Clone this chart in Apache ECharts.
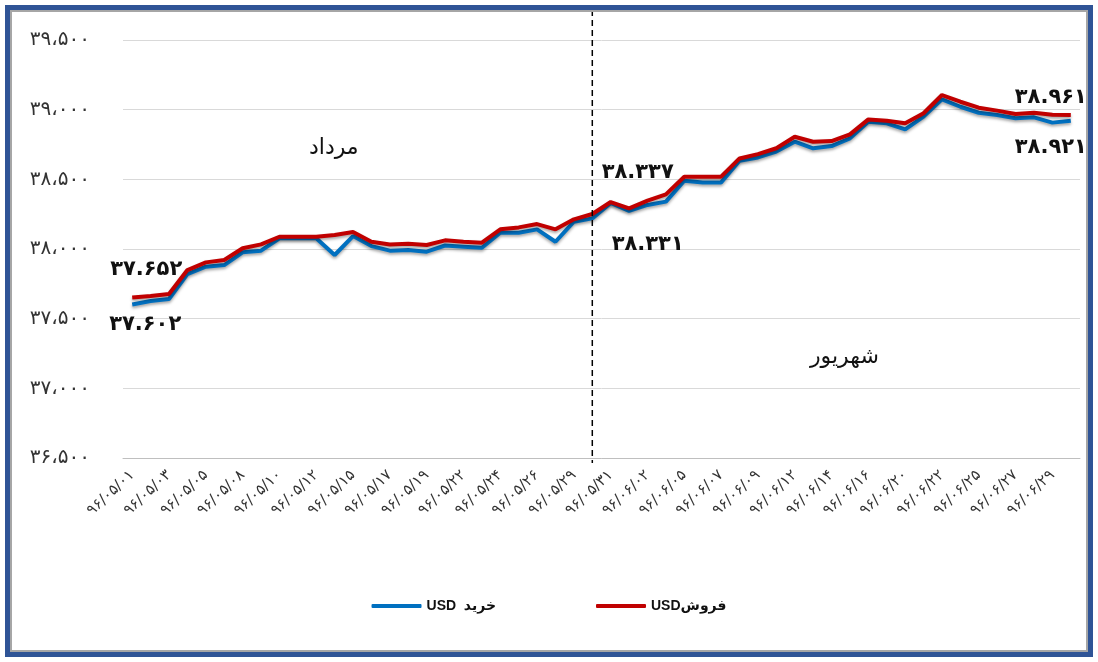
<!DOCTYPE html>
<html>
<head>
<meta charset="utf-8">
<script src="https://cdn.jsdelivr.net/npm/echarts@6/dist/echarts.min.js"></script>
<style>
  html, body { margin: 0; padding: 0; background: #fff; }
  #main { position: absolute; left: 0; top: 0; width: 1098px; height: 662px; }
  #frame {
    position: absolute; left: 5px; top: 5px; width: 1088px; height: 652px;
    box-sizing: border-box; border: 5px solid #2f5496;
    box-shadow: inset 0 0 0 2px #a6a6a6; pointer-events: none; z-index: 5;
  }
</style>
</head>
<body>
<div id="main"></div>
<div id="frame"></div>
<script>
// trading days, Mordad and Shahrivar 1396
var dates = [
  '96/05/01','96/05/02','96/05/03','96/05/04','96/05/05','96/05/07','96/05/08','96/05/09','96/05/10',
  '96/05/11','96/05/12','96/05/14','96/05/15','96/05/16','96/05/17','96/05/18','96/05/19','96/05/21',
  '96/05/22','96/05/23','96/05/24','96/05/25','96/05/26','96/05/28','96/05/29','96/05/30','96/05/31',
  '96/06/01','96/06/02','96/06/04','96/06/05','96/06/06','96/06/07','96/06/08','96/06/09','96/06/11',
  '96/06/12','96/06/13','96/06/14','96/06/15','96/06/16','96/06/19','96/06/20','96/06/21','96/06/22',
  '96/06/23','96/06/25','96/06/26','96/06/27','96/06/28','96/06/29','96/06/30'
];

// خرید USD
var buy = [
  37602, 37627, 37641, 37820, 37873, 37885, 37976, 37988, 38077,
  38077, 38077, 37957, 38093, 38021, 37988, 37993, 37981, 38025,
  38017, 38009, 38117, 38117, 38141, 38052, 38196, 38220, 38331,
  38273, 38316, 38340, 38490, 38478, 38478, 38633, 38657, 38699,
  38770, 38723, 38739, 38794, 38913, 38902, 38859, 38950, 39074,
  39021, 38978, 38962, 38938, 38945, 38907, 38921
];

// فروش USD
var sell = [
  37652, 37663, 37677, 37849, 37904, 37921, 38005, 38033, 38088,
  38088, 38088, 38100, 38122, 38052, 38033, 38038, 38029, 38062,
  38052, 38045, 38141, 38155, 38179, 38141, 38213, 38251, 38337,
  38292, 38347, 38392, 38519, 38519, 38519, 38650, 38681, 38723,
  38806, 38770, 38775, 38823, 38930, 38921, 38902, 38974, 39105,
  39057, 39014, 38993, 38969, 38978, 38964, 38961
];

var labeledPoints = [0, 26, 51];
var monthNames = ['مرداد', 'شهریور'];
var splitIndex = 25;

var faDigits = '۰۱۲۳۴۵۶۷۸۹';
function toFa(s) {
  return String(s).replace(/[0-9]/g, function (d) { return faDigits[d]; });
}
function fmtAxis(v) {
  var s = String(v);
  return toFa(s.slice(0, s.length - 3) + '،' + s.slice(-3));
}
function fmtPoint(v) {
  var s = String(v);
  return toFa(s.slice(0, s.length - 3) + '.' + s.slice(-3));
}

var sellOffsets = { 0: [14, -12], 26: [27, -14], 51: [-20, -2] };
var buyOffsets = { 0: [13, 5], 26: [37, 26], 51: [-20, 11] };

function withLabels(values, pos, offsets) {
  return values.map(function (v, i) {
    if (labeledPoints.indexOf(i) < 0) return v;
    return {
      value: v,
      label: {
        show: true, position: pos, offset: offsets[i],
        formatter: function (p) { return fmtPoint(p.value); },
        fontFamily: 'DejaVu Sans', fontSize: 21, fontWeight: 'bold', color: '#111'
      }
    };
  });
}

function lineSeries(name, values, color, pos, offsets) {
  return {
    name: name,
    type: 'line',
    symbol: 'circle',
    symbolSize: 0,
    showAllSymbol: true,
    data: withLabels(values, pos, offsets),
    itemStyle: { color: color },
    lineStyle: { width: 4, color: color, shadowColor: 'rgba(0,0,0,0.35)', shadowBlur: 3, shadowOffsetY: 2 }
  };
}

var myChart = echarts.init(document.getElementById('main'));
myChart.setOption({
  animation: false,
  color: ['#0070c0', '#c00000'],
  grid: { left: 123, right: 18, top: 40, bottom: 204 },
  legend: {
    bottom: 44,
    left: 'center',
    icon: 'roundRect',
    itemGap: 100,
    itemWidth: 50,
    itemHeight: 4,
    textStyle: { fontFamily: 'Liberation Sans, DejaVu Sans', fontSize: 14, fontWeight: 'bold', color: '#111' },
    data: ['USD  خرید', 'USDفروش']
  },
  xAxis: {
    type: 'category',
    data: dates,
    boundaryGap: true,
    axisLine: { lineStyle: { color: '#bfbfbf' } },
    axisTick: { show: false },
    axisLabel: {
      interval: 1,
      rotate: 43,
      margin: 15,
      fontFamily: 'DejaVu Sans',
      fontSize: 15,
      color: '#333',
      formatter: function (v) { return toFa(v); }
    }
  },
  yAxis: {
    type: 'value',
    min: 36500,
    max: 39500,
    interval: 500,
    axisLine: { show: false },
    axisTick: { show: false },
    splitLine: { lineStyle: { color: '#d9d9d9' } },
    axisLabel: {
      margin: 33,
      fontFamily: 'DejaVu Sans',
      fontSize: 20,
      color: '#333',
      padding: [0, 0, 6, 0],
      formatter: fmtAxis
    }
  },
  series: [
    lineSeries('USD  خرید', buy, '#0070c0', 'bottom', buyOffsets),
    lineSeries('USDفروش', sell, '#c00000', 'top', sellOffsets)
  ]
});

// month separator and month names
var xSplit = myChart.convertToPixel({ xAxisIndex: 0 }, dates[splitIndex]);
myChart.setOption({
  graphic: [
    {
      type: 'line',
      shape: { x1: xSplit, y1: 10, x2: xSplit, y2: 463 },
      style: { stroke: '#000', lineWidth: 1.5, lineDash: [6, 4] },
      z: 10
    },
    {
      type: 'text', left: 309, top: 137,
      style: { text: monthNames[0], font: '22px "DejaVu Sans"', fill: '#111' }
    },
    {
      type: 'text', left: 810, top: 346,
      style: { text: monthNames[1], font: '22px "DejaVu Sans"', fill: '#111' }
    }
  ]
});
</script>
</body>
</html>
